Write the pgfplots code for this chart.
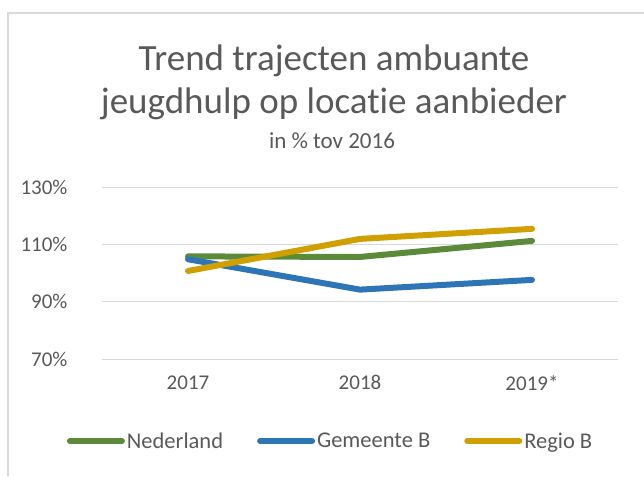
\documentclass[border=0pt]{standalone}
\usepackage{pgfplots}
\pgfplotsset{compat=1.18}
\usepackage{fontspec}
\setmainfont{Carlito}[Ligatures=NoCommon]
\definecolor{txt}{HTML}{595959}
\definecolor{gridc}{HTML}{D9D9D9}
\definecolor{cgreen}{HTML}{5A8A3A}
\definecolor{cblue}{HTML}{2E75B6}
\definecolor{cgold}{HTML}{D0A000}
\begin{document}
\begin{tikzpicture}
\begin{axis}[
  name=ax, anchor=south west, at={(0,0)},
  scale only axis, width=516pt, height=172pt,
  xmin=-0.5, xmax=2.5, ymin=70, ymax=130,
  xtick={0,1,2}, xticklabels={2017,2018,2019*},
  ytick={70,90,110,130},
  yticklabel={\pgfmathprintnumber{\tick}\%},
  /pgf/number format/assume math mode=true,
  xmajorgrids=false, ymajorgrids=true, grid style={gridc, line width=1pt},
  axis line style={draw=none},
  major tick length=0pt,
  ticklabel style={text=txt, font=\fontsize{21}{25}\selectfont},
  yticklabel style={xshift=-31pt, anchor=east},
  xticklabel style={yshift=-13pt},
  legend columns=-1,
  legend style={draw=none, fill=none, at={(0.443,-0.477)}, anchor=center,
    font=\fontsize{22.5}{27}\selectfont, text=txt,
    nodes={inner xsep=2pt, inner ysep=0pt},
    /tikz/every even column/.append style={column sep=32pt},
    inner sep=0pt},
  legend image code/.code={\draw[#1, line width=6pt, line cap=round] (0pt,0pt) -- (52pt,0pt);},
  every axis plot/.append style={line width=6pt, line cap=round, line join=round, mark=none},
  clip=false,
]
\addplot[cgreen] coordinates {(0,105.8) (1,105.6) (2,111.2)};
\addlegendentry{Nederland}
\addplot[cblue] coordinates {(0,104.8) (1,94.2) (2,97.6)};
\addlegendentry{Gemeente B}
\addplot[cgold] coordinates {(0,100.7) (1,111.9) (2,115.4)};
\addlegendentry{Regio B}
\end{axis}
\begin{scope}[shift={(ax.south west)}, x=1pt, y=1pt]
\path[use as bounding box] (-102,-117) rectangle (542,359);
\draw[gridc, line width=1.5pt] (-94,-117) -- (-94,346) -- (542,346);
\node[anchor=base, text=txt, font=\fontsize{37}{44}\selectfont] at (232,288) {Trend trajecten ambuante};
\node[anchor=base, text=txt, font=\fontsize{37}{44}\selectfont] at (232,245) {jeugdhulp op locatie aanbieder};
\node[anchor=base, text=txt, font=\fontsize{23}{28}\selectfont] at (230,210) {in \% tov 2016};
\end{scope}
\end{tikzpicture}
\end{document}
